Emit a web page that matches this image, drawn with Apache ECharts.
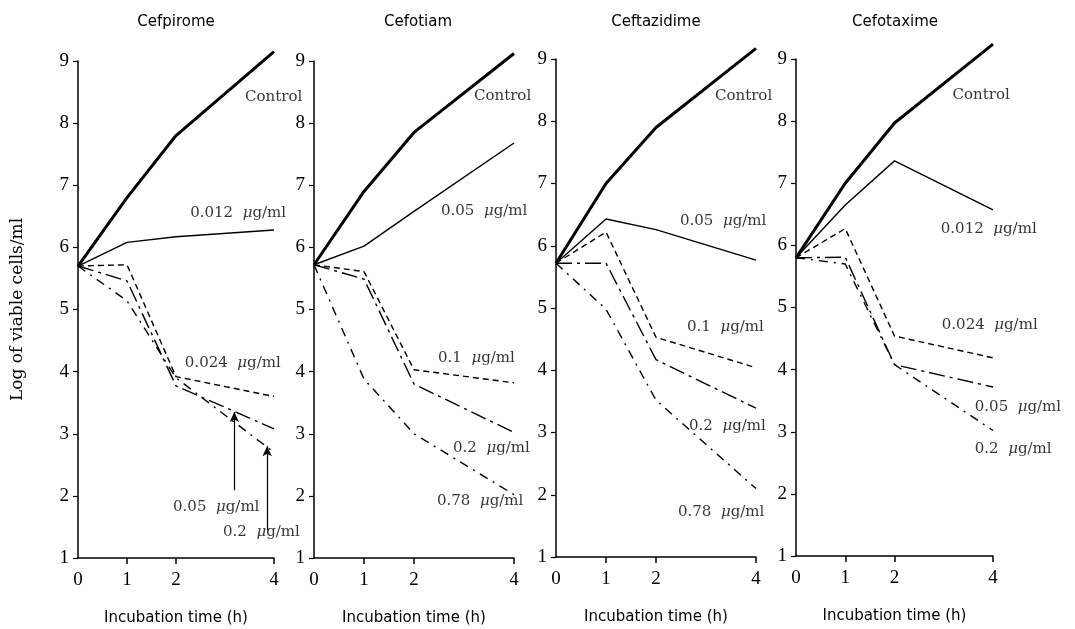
<!DOCTYPE html>
<html>
<head>
	<meta charset="utf-8">
	<title>Viable counts</title>
	<script src="https://cdn.jsdelivr.net/npm/echarts@6/dist/echarts.min.js"></script>
	<style>
		html, body { margin: 0; padding: 0; background: #fff; }
	</style>
</head>
<body>
	<div id="echart" style="width: 1075px; height: 629px"></div>
	<script>
		// incubation time (h)
		const hours = [0, 1, 2, 4];
		const drugs = ['Cefpirome', 'Cefotiam', 'Ceftazidime', 'Cefotaxime'];

		// log viable cells/ml, one array per curve
		const cefpiromeControl = [5.7, 6.8, 7.8, 9.15];
		const cefpirome0012 = [5.7, 6.08, 6.17, 6.28];
		const cefpirome0024 = [5.7, 5.72, 3.92, 3.6];
		const cefpirome005 = [5.7, 5.46, 3.77, 3.08];
		const cefpirome02 = [5.7, 5.14, 3.9, 2.7];

		const cefotiamControl = [5.72, 6.9, 7.85, 9.12];
		const cefotiam005 = [5.72, 6.02, 6.58, 7.68];
		const cefotiam01 = [5.72, 5.61, 4.03, 3.82];
		const cefotiam02 = [5.72, 5.49, 3.8, 3.02];
		const cefotiam078 = [5.72, 3.88, 3.0, 2.02];

		const ceftazidimeControl = [5.72, 7.0, 7.9, 9.17];
		const ceftazidime005 = [5.72, 6.43, 6.26, 5.77];
		const ceftazidime01 = [5.72, 6.22, 4.53, 4.04];
		const ceftazidime02 = [5.72, 5.72, 4.17, 3.39];
		const ceftazidime078 = [5.72, 4.98, 3.52, 2.1];

		const cefotaximeControl = [5.8, 7.0, 7.97, 9.24];
		const cefotaxime0012 = [5.8, 6.65, 7.36, 6.57];
		const cefotaxime0024 = [5.8, 6.27, 4.54, 4.19];
		const cefotaxime005 = [5.8, 5.81, 4.08, 3.72];
		const cefotaxime02 = [5.8, 5.7, 4.08, 3.02];

		const curveNames = [
			['Control', '0.012', '0.024', '0.05', '0.2'],
			['Control', '0.05', '0.1', '0.2', '0.78'],
			['Control', '0.05', '0.1', '0.2', '0.78'],
			['Control', '0.012', '0.024', '0.05', '0.2']
		];
		const curves = [
			[cefpiromeControl, cefpirome0012, cefpirome0024, cefpirome005, cefpirome02],
			[cefotiamControl, cefotiam005, cefotiam01, cefotiam02, cefotiam078],
			[ceftazidimeControl, ceftazidime005, ceftazidime01, ceftazidime02, ceftazidime078],
			[cefotaximeControl, cefotaxime0012, cefotaxime0024, cefotaxime005, cefotaxime02]
		];

		// where each curve label sits, in (h, log) of its panel
		const labelSpots = [
			[[3.41, 8.42], [2.29, 6.55], [2.18, 4.14], [1.94, 1.82], [2.96, 1.42]],
			[[3.2, 8.43], [2.54, 6.58], [2.48, 4.22], [2.78, 2.77], [2.46, 1.92]],
			[[3.18, 8.4], [2.48, 6.39], [2.62, 4.7], [2.66, 3.1], [2.44, 1.72]],
			[[3.18, 8.42], [2.94, 6.26], [2.96, 4.71], [3.63, 3.39], [3.63, 2.72]]
		];
		// the two arrows in the Cefpirome panel: [h, from, to]
		const pointers = [[3.19, 2.09, 3.35], [3.86, 1.45, 2.8]];

		const grids = [
			{left: 78, top: 61, width: 196, height: 497},
			{left: 314, top: 61, width: 200, height: 497},
			{left: 556, top: 59, width: 200, height: 498},
			{left: 796, top: 59, width: 197, height: 497}
		];
		const titleX = [171, 413, 651, 890];

		const ink = '#000';
		const serif = 'Liberation Serif';
		const labelFont = 'DejaVu Serif';
		const sans = 'DejaVu Sans';
		const lineStyles = [
			{width: 3, type: 'solid'},
			{width: 1.4, type: 'solid'},
			{width: 1.4, type: [6, 4]},
			{width: 1.4, type: [16, 5, 3, 5]},
			{width: 1.4, type: [9, 6, 2, 6]}
		];

		let mychart = echarts.init(document.getElementById('echart'));
		let option = {
			backgroundColor: '#fff',
			animation: false,
			title: [],
			grid: [],
			xAxis: [],
			yAxis: [],
			series: []
		};

		drugs.forEach(function(drug, p) {
			option.title.push({
				text: drug,
				left: titleX[p],
				top: 10,
				textAlign: 'center',
				textStyle: {fontFamily: sans, fontSize: 15, fontWeight: 'normal', color: ink}
			});
			option.grid.push(Object.assign({outerBoundsMode: 'none', containLabel: false}, grids[p]));
			option.xAxis.push({
				gridIndex: p,
				type: 'value',
				min: 0,
				max: 4,
				interval: 1,
				name: 'Incubation time (h)',
				nameLocation: 'middle',
				nameGap: 53,
				nameTextStyle: {fontFamily: sans, fontSize: 15, color: ink},
				axisLine: {lineStyle: {color: ink, width: 1.5}},
				axisTick: {length: 6, customValues: [1, 2, 4], lineStyle: {color: ink, width: 1.5}},
				axisLabel: {customValues: [0, 1, 2, 4], margin: 13, fontFamily: serif, fontSize: 19, color: ink},
				splitLine: {show: false}
			});
			option.yAxis.push({
				gridIndex: p,
				type: 'value',
				min: 1,
				max: 9,
				interval: 1,
				name: p === 0 ? 'Log of viable cells/ml' : '',
				nameLocation: 'middle',
				nameGap: 52,
				nameTextStyle: {fontFamily: labelFont, fontSize: 17, color: ink},
				axisLine: {show: true, lineStyle: {color: ink, width: 1.5}},
				axisTick: {show: true, length: 5, lineStyle: {color: ink, width: 1.2}},
				axisLabel: {margin: 9, fontFamily: serif, fontSize: 19, color: ink},
				splitLine: {show: false}
			});

			curves[p].forEach(function(vals, k) {
				let s = {
					name: drug + ' ' + curveNames[p][k],
					type: 'line',
					xAxisIndex: p,
					yAxisIndex: p,
					clip: false,
					data: hours.map(function(h, i) { return [h, vals[i]]; }),
					symbol: 'none',
					lineStyle: Object.assign({color: ink}, lineStyles[k]),
					z: 5 - k
				};
				if (p === 0 && k === 3) {
					s.markLine = {
						silent: true,
						symbol: ['none', 'arrow'],
						symbolSize: [7, 10],
						label: {show: false},
						lineStyle: {color: ink, width: 1.2, type: 'solid'},
						data: pointers.map(function(a) {
							return [{coord: [a[0], a[1]]}, {coord: [a[0], a[2]]}];
						})
					};
				}
				option.series.push(s);
			});

			// curve labels
			option.series.push({
				type: 'scatter',
				xAxisIndex: p,
				yAxisIndex: p,
				symbolSize: 0,
				clip: false,
				silent: true,
				data: labelSpots[p].map(function(pt, k) {
					return {value: pt, name: curveNames[p][k]};
				}),
				label: {
					show: true,
					position: 'right',
					distance: 0,
					color: ink,
					fontFamily: labelFont,
					fontSize: 15,
					formatter: function(d) {
						return d.name === 'Control' ? 'Control' : d.name + '  {m|\u03bc}g/ml';
					},
					rich: {m: {fontFamily: labelFont, fontSize: 15, fontStyle: 'italic', color: ink}}
				}
			});
		});

		mychart.setOption(option);
	</script>
</body>
</html>
